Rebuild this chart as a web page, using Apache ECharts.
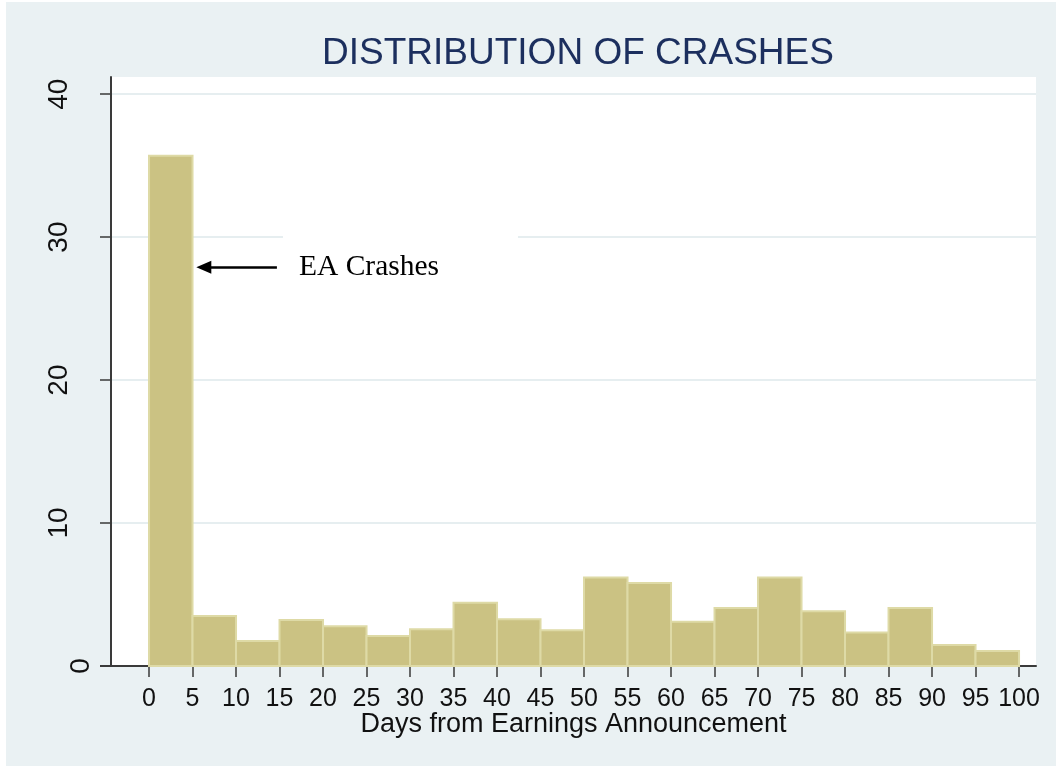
<!DOCTYPE html>
<html>
<head>
<meta charset="utf-8">
<title>Distribution of Crashes</title>
<script src="https://cdn.jsdelivr.net/npm/echarts@6/dist/echarts.min.js"></script>
<style>
  html, body { margin: 0; padding: 0; background: #fff; }
  #chart { position: absolute; left: 6px; top: 2px; width: 1050px; height: 764px; }
</style>
</head>
<body>
<div id="chart"></div>
<script>
// ─── data ─────────────────────────────────────────────
// bin edges (days), 5-day bins
const binStarts = [0, 5, 10, 15, 20, 25, 30, 35, 40, 45, 50, 55, 60, 65, 70, 75, 80, 85, 90, 95]
const binEnds   = [5, 10, 15, 20, 25, 30, 35, 40, 45, 50, 55, 60, 65, 70, 75, 80, 85, 90, 95, 100]
// percent of crashes in each bin
const percents  = [35.7, 3.5, 1.75, 3.22, 2.78, 2.1, 2.57, 4.43, 3.27, 2.5,
                   6.19, 5.81, 3.1, 4.06, 6.19, 3.83, 2.34, 4.06, 1.47, 1.05]

const xTicks = [0, 5, 10, 15, 20, 25, 30, 35, 40, 45, 50, 55, 60, 65, 70, 75, 80, 85, 90, 95, 100]
const yTicks = [0, 10, 20, 30, 40]

// annotation: arrow from (arrowFrom) to (arrowTo) and text
const arrowFrom = [14.7, 27.9]
const arrowTo   = [6.3, 27.9]
const noteAt    = [28.9, 27.9]
const noteText  = 'EA Crashes'

const histData = binStarts.map((s, i) => [s, binEnds[i], percents[i]])

const AXIS_COLOR = '#3a3a3a'
const GRID_LEFT = 105, GRID_BOTTOM = 100

const chart = echarts.init(document.getElementById('chart'))

chart.setOption({
  backgroundColor: '#eaf1f3',
  animation: false,
  title: {
    text: 'DISTRIBUTION OF CRASHES',
    left: 567,
    top: 28,
    textAlign: 'center',
    textStyle: { fontFamily: 'Liberation Sans', fontSize: 37, fontWeight: 'normal', color: '#1c2f5e' },
  },
  grid: {
    left: GRID_LEFT, right: 20, top: 75, bottom: GRID_BOTTOM,
    show: true, backgroundColor: '#fff', borderWidth: 0,
  },
  xAxis: {
    type: 'value',
    min: -4.37,
    max: 101.95,
    name: 'Days from Earnings Announcement',
    nameLocation: 'middle',
    nameGap: 45,
    nameMoveOverlap: false,
    nameTextStyle: { fontFamily: 'Liberation Sans', fontSize: 27, color: '#111' },
    axisLine: { show: true, onZero: false, lineStyle: { color: AXIS_COLOR, width: 2 } },
    axisTick: { show: true, length: 11, customValues: xTicks, lineStyle: { color: AXIS_COLOR, width: 1.5 } },
    axisLabel: {
      customValues: xTicks,
      margin: 21,
      fontFamily: 'Liberation Sans', fontSize: 25, color: '#111',
    },
    splitLine: { show: false },
  },
  yAxis: {
    type: 'value',
    min: 0,
    max: 41.2,
    axisLine: { show: true, onZero: false, lineStyle: { color: AXIS_COLOR, width: 2 } },
    axisTick: { show: true, length: 11, customValues: yTicks, lineStyle: { color: AXIS_COLOR, width: 1.5 } },
    axisLabel: {
      customValues: yTicks,
      rotate: 90,
      margin: 16,
      fontFamily: 'Liberation Sans', fontSize: 28, color: '#111',
      formatter: v => v === 0 ? '{z|0}' : '{n|' + v + '}',
      rich: {
        z: { fontFamily: 'Liberation Sans', fontSize: 28, color: '#111' },
        n: { fontFamily: 'Liberation Sans', fontSize: 28, color: '#111', padding: [0, 0, 22, 0] },
      },
    },
    splitLine: { show: true, lineStyle: { color: '#e6eef0', width: 2 } },
  },
  series: [
    {
      type: 'custom',
      data: histData,
      encode: { x: [0, 1], y: 2 },
      renderItem: (params, api) => {
        const p0 = api.coord([api.value(0), api.value(2)])
        const p1 = api.coord([api.value(1), 0])
        return {
          type: 'rect',
          shape: { x: p0[0], y: p0[1], width: p1[0] - p0[0], height: p1[1] - p0[1] },
          style: { fill: '#cbc283', stroke: '#dedaa6', lineWidth: 2 },
        }
      },
    },
    {
      // annotation carrier
      type: 'line',
      data: [],
      markLine: {
        silent: true,
        animation: false,
        symbol: ['none', 'triangle'],
        symbolSize: [13, 15],
        label: { show: false },
        lineStyle: { color: '#000', width: 2.5, type: 'solid' },
        data: [[{ coord: arrowFrom }, { coord: arrowTo }]],
      },
      markPoint: {
        silent: true,
        animation: false,
        data: [{
          coord: noteAt,
          symbol: 'rect',
          symbolSize: [235, 64],
          itemStyle: { color: '#fff' },
          label: {
            show: true,
            position: 'insideLeft',
            distance: 16,
            formatter: noteText,
            fontFamily: 'Liberation Serif',
            fontSize: 29.5,
            color: '#000',
          },
        }],
      },
    },
  ],
})

// x axis line runs on past the y axis by one tick length
chart.setOption({
  graphic: [{
    type: 'line',
    silent: true,
    shape: { x1: GRID_LEFT - 11, y1: 764 - GRID_BOTTOM, x2: GRID_LEFT, y2: 764 - GRID_BOTTOM },
    style: { stroke: AXIS_COLOR, lineWidth: 2 },
  }],
})
</script>
</body>
</html>
